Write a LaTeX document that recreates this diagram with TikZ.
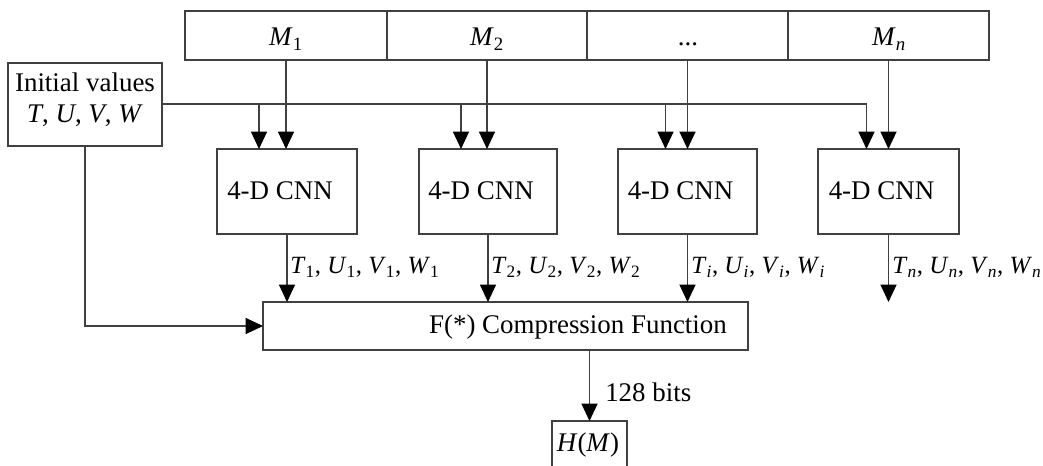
\documentclass[tikz,border=0pt]{standalone}
\usepackage{fontspec}
\setmainfont{Liberation Serif}
\usetikzlibrary{arrows.meta,calc}
\newcommand{\vsub}[2]{\textit{#1}\textsubscript{#2}}
\begin{document}
\begin{tikzpicture}[x=0.75pt,y=-0.75pt,
  font=\fontsize{20.2}{23}\selectfont,
  box/.style={draw=black!75, line width=0.9pt, inner sep=0pt, outer sep=0pt},
  sz/.style 2 args={minimum width=#1*0.75pt, minimum height=#2*0.75pt},
  wire/.style={draw=black!75, line width=0.9pt},
  arr/.style={wire, -{Triangle[length=13pt,width=12pt,color=black]}},
  txt/.style={inner sep=0pt, anchor=base},
  lbl/.style={inner sep=0pt, anchor=base west, font=\fontsize{18.6}{22}\selectfont}]
\useasboundingbox (0,0) rectangle (1043,466);

% message blocks
\node[box, sz={202}{49}] (m1) at (286,35.5) {};
\node[box, sz={200}{49}] (m2) at (487,35.5) {};
\node[box, sz={201}{49}] (m3) at (687.5,35.5) {};
\node[box, sz={201}{49}] (m4) at (888.5,35.5) {};
\node[txt] at (286,46) {\textit{M}\textsubscript{1}};
\node[txt] at (487,46) {\textit{M}\textsubscript{2}};
\node[txt] at (688,46) {...};
\node[txt] at (889,46) {\textit{M}\textsubscript{\textit{n}}};

% initial values
\node[box, sz={154}{83}] (ini) at (85,104.5) {};
\node[txt] at (85,92) {Initial values};
\node[txt] at (85,123) {\textit{T}, \textit{U}, \textit{V}, \textit{W}};

% chaotic neural network stages
\node[box, sz={140}{85}] (c1) at (287,191.5) {};
\node[box, sz={138}{85}] (c2) at (488,191.5) {};
\node[box, sz={139}{85}] (c3) at (687.5,191.5) {};
\node[box, sz={141}{85}] (c4) at (888.5,191.5) {};
\foreach \k in {1,...,4}{
  \node[txt] at ($(c\k.center)+(-7,8.5)$) {4-D CNN};
}

% compression function
\node[box, sz={485}{48}] (F) at (505.5,326) {};
\node[txt] at (578,334) {F(*) Compression Function};

% hash output
\node[inner sep=0pt, outer sep=0pt, sz={75}{48}] (hm) at (589.5,445) {};
\node[txt] at (588,452) {\textit{H}(\textit{M})};
\draw[wire] (hm.south west) -- (hm.north west) -- (hm.north east) -- (hm.south east);

% initial value bus
\coordinate (bus) at (162,104);
\coordinate (d1) at ($(c1.north)+(-28,0)$);
\coordinate (d2) at ($(c2.north)+(-27,0)$);
\coordinate (d3) at ($(c3.north)+(-22,0)$);
\coordinate (d4) at ($(c4.north)+(-22,0)$);
\draw[arr] (bus) -| (d4);
\foreach \k in {1,2,3}{
  \draw[arr] (bus -| d\k) -- (d\k);
}

% message inputs
\foreach \k in {1,...,4}{
  \draw[arr] (m\k.south) -- (m\k.south |- c\k.north);
}

% stage outputs
\foreach \k in {1,...,4}{
  \draw[arr] (c\k.south) -- (c\k.south |- F.north);
}
\node[lbl] at (290,274) {\vsub{T}{1}, \vsub{U}{1}, \vsub{V}{1}, \vsub{W}{1}};
\node[lbl] at (491,274) {\vsub{T}{2}, \vsub{U}{2}, \vsub{V}{2}, \vsub{W}{2}};
\node[lbl] at (691,274) {\vsub{T}{\textit{i}}, \vsub{U}{\textit{i}}, \vsub{V}{\textit{i}}, \vsub{W}{\textit{i}}};
\node[lbl] at (892,274) {\vsub{T}{\textit{n}}, \vsub{U}{\textit{n}}, \vsub{V}{\textit{n}}, \vsub{W}{\textit{n}}};

% initial values into compression function
\draw[arr] (ini.south) |- (F.west);

% final hash
\draw[arr] (F.south -| hm.north) -- (hm.north);
\node[txt, anchor=base west] at (605,402) {128 bits};
\end{tikzpicture}
\end{document}
